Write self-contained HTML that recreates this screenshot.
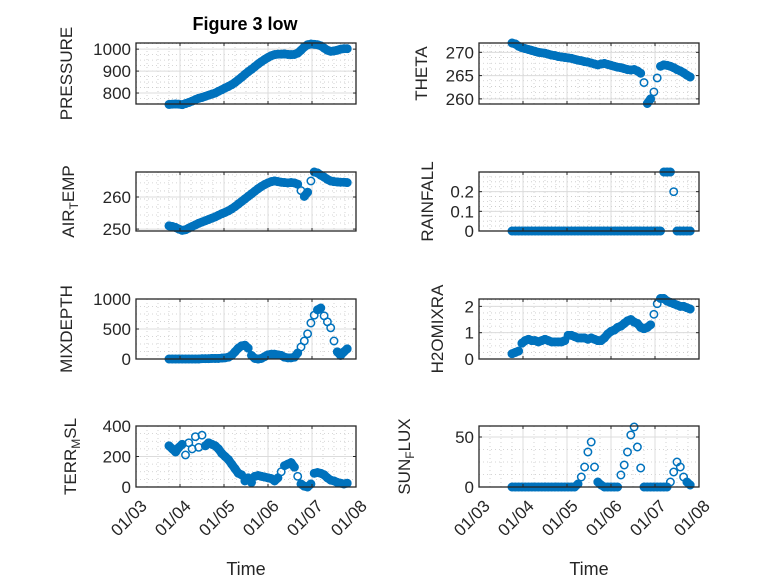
<!DOCTYPE html>
<html><head><meta charset="utf-8"><style>
body{margin:0;background:#fff;}
svg{display:block;font-family:"Liberation Sans",sans-serif;}
</style></head><body>
<svg id="fig" width="778" height="583" viewBox="0 0 778 583" xmlns="http://www.w3.org/2000/svg">
<rect width="778" height="583" fill="#fff"/>
<text x="245" y="30" text-anchor="middle" font-size="18" font-weight="bold" fill="#000">Figure 3 low</text>
</svg>
<script>
const months = ["01/03","01/04","01/05","01/06","01/07","01/08"];
const times = [0.75,0.825,0.9,0.975,1.05,1.125,1.2,1.275,1.35,1.425,1.5,1.575,1.65,1.725,1.8,1.875,1.95,2.025,2.1,2.175,2.25,2.325,2.4,2.475,2.55,2.625,2.7,2.775,2.85,2.925,3.0,3.075,3.15,3.225,3.3,3.375,3.45,3.525,3.6,3.675,3.75,3.825,3.9,3.975,4.05,4.125,4.2,4.275,4.35,4.425,4.5,4.575,4.65,4.725,4.8];
const pressure = [748,749,750,749,747,752,757,763,770,776,780,785,790,795,800,808,815,823,830,838,848,860,872,885,897,908,920,932,943,953,962,970,975,977,977,978,976,975,976,982,995,1010,1020,1023,1022,1020,1015,1005,995,990,992,995,1000,1002,1002];
const theta = [272,271.8,271.3,271,270.8,270.6,270.4,270.2,270,269.9,269.8,269.6,269.4,269.3,269.1,269,268.9,268.8,268.7,268.5,268.3,268.2,268,267.9,267.7,267.5,267.3,267.5,267.6,267.4,267.2,267,266.8,266.7,266.5,266.3,266.2,266.3,266,265.5,263.5,259,260,261.5,264.5,267,267.3,267.2,267,266.7,266.3,266,265.6,265.1,264.7];
const airTemp = [251,250.8,250.5,250,249.6,249.8,250.3,250.8,251.3,251.8,252.2,252.6,253,253.4,253.8,254.3,254.8,255.2,255.7,256.3,257,257.8,258.6,259.4,260.2,261,261.8,262.6,263.3,263.9,264.4,264.8,265,264.8,264.6,264.5,264.4,264.5,264.4,264,262,260.2,261.5,265,267.8,267.5,266.8,266.2,265.5,265,264.8,264.7,264.6,264.6,264.5];
const rainfall = [0,0,0,0,0,0,0,0,0,0,0,0,0,0,0,0,0,0,0,0,0,0,0,0,0,0,0,0,0,0,0,0,0,0,0,0,0,0,0,0,0,0,0,0,0,0,0.3,0.3,0.3,0.2,0,0,0,0,0];
const mixdepth = [0,0,0,0,0,0,0,0,0,0,5,5,5,10,10,10,15,20,30,60,120,180,220,230,180,60,10,0,10,40,70,80,80,70,60,30,20,20,30,100,200,300,420,600,730,820,850,720,620,520,300,120,60,120,170];
const h2o = [0.2,0.25,0.3,0.6,0.7,0.75,0.7,0.7,0.65,0.7,0.75,0.7,0.65,0.65,0.65,0.65,0.7,0.9,0.9,0.85,0.8,0.8,0.8,0.75,0.8,0.75,0.7,0.7,0.8,0.95,1.05,1.1,1.2,1.25,1.35,1.45,1.5,1.4,1.35,1.2,1.15,1.2,1.3,1.7,2.1,2.3,2.3,2.2,2.15,2.1,2.05,2.0,2.0,1.95,1.9];
const terrMsl = [270,250,230,260,280,210,290,250,330,260,340,270,290,280,270,250,220,200,180,150,120,90,80,40,60,30,70,75,70,65,60,55,40,60,100,140,150,160,130,70,20,5,0,20,90,95,90,80,60,45,40,30,25,20,25];
const sunFlux = [0,0,0,0,0,0,0,0,0,0,0,0,0,0,0,0,0,0,0,0,3,10,20,35,45,20,5,2,0,0,0,0,0,12,22,35,52,60,40,19,0,0,0,0,0,0,0,0,5,15,25,20,10,5,2];

const NS="http://www.w3.org/2000/svg";
const svg=document.getElementById('fig');
function mk(tag,attrs,parent){const e=document.createElementNS(NS,tag);for(const k in attrs)e.setAttribute(k,attrs[k]);(parent||svg).appendChild(e);return e;}

function panel(o){
  const g=mk('g',{});
  
  
  const x0=o.x,x1=o.x+220,y0=o.y,y1=o.y+o.h;
  const sx=t=>x0+(x1-x0)*t/5;
  const sy=v=>y1-(y1-y0)*(v-o.min)/(o.max-o.min);
  for(let t=0;t<=5;t+=0.25){if(Math.abs(t-Math.round(t))<1e-6)continue;
    mk('line',{x1:sx(t),x2:sx(t),y1:y0,y2:y1,stroke:'#c8c8c8','stroke-width':0.8,'stroke-dasharray':'1,3'},g);}
  for(let v=o.min;v<=o.max;v+=o.minor){
    mk('line',{x1:x0,x2:x1,y1:sy(v),y2:sy(v),stroke:'#c8c8c8','stroke-width':0.8,'stroke-dasharray':'1,3'},g);}
  for(let t=1;t<5;t++) mk('line',{x1:sx(t),x2:sx(t),y1:y0,y2:y1,stroke:'#dcdcdc','stroke-width':1},g);
  o.ticks.forEach(v=>mk('line',{x1:x0,x2:x1,y1:sy(v),y2:sy(v),stroke:'#dcdcdc','stroke-width':1},g));
  const ser=mk('g',{},g);
  
  
  // dense band between close neighbouring points (emulates overlapping markers)
  for(let i=1;i<o.vals.length;i++){
    const ax=sx(times[i-1]),ay=sy(o.vals[i-1]),bx=sx(times[i]),by=sy(o.vals[i]);
    if(Math.abs(by-ay)<5){
      mk('line',{x1:ax,y1:ay,x2:bx,y2:by,stroke:'#0072BD','stroke-width':8.6,'stroke-linecap':'round'},ser);
    }
  }
  o.vals.forEach((v,i)=>{
    const c=mk('circle',{cx:sx(times[i]),cy:sy(v),r:3.7,fill:'none',stroke:'#0072BD','stroke-width':1.5},ser);
    
    
  });
  mk('rect',{x:x0,y:y0,width:x1-x0,height:y1-y0,fill:'none',stroke:'#262626','stroke-width':1.3},g);
  for(let t=0;t<=5;t++){mk('line',{x1:sx(t),x2:sx(t),y1:y1,y2:y1-3,stroke:'#262626'},g);mk('line',{x1:sx(t),x2:sx(t),y1:y0,y2:y0+3,stroke:'#262626'},g);}
  o.ticks.forEach((v,i)=>{
    mk('line',{x1:x0,x2:x0+3,y1:sy(v),y2:sy(v),stroke:'#262626'},g);
    mk('line',{x1:x1,x2:x1-3,y1:sy(v),y2:sy(v),stroke:'#262626'},g);
    const tl=mk('text',{x:x0-5,y:sy(v)+6,'text-anchor':'end','font-size':17,fill:'#262626'},g);
    tl.textContent=o.tickLabels[i];
    
    
  });
  const yl=mk('text',{transform:`translate(${o.lx},${(y0+y1)/2}) rotate(-90)`,'text-anchor':'middle','font-size':17,fill:'#262626'},g);
  
  
  o.label.forEach(p=>{const ts=mk('tspan',{},yl);ts.textContent=p[0];
    if(p[1]){ts.setAttribute('baseline-shift','-35%');ts.setAttribute('font-size','12');}});
  if(o.bottom){
    months.forEach((m,i)=>{
      const t=mk('text',{transform:`translate(${sx(i)+12},${y1+20}) rotate(-45)`,'text-anchor':'end','font-size':17,fill:'#262626'},g);
      t.textContent=m;
      
      
    });
    const xt=mk('text',{x:(x0+x1)/2,y:575,'text-anchor':'middle','font-size':18,fill:'#262626'},g);
    xt.textContent='Time';
    
    
  }
}
const L=136,R=479;
panel({name:'pressure',x:L,y:43,h:61,min:750,max:1028,minor:25,ticks:[800,900,1000],tickLabels:['800','900','1000'],vals:pressure,label:[['PRESSURE']],lx:72});
panel({name:'theta',x:R,y:43,h:61,min:258.9,max:272,minor:1.25,ticks:[260,265,270],tickLabels:['260','265','270'],vals:theta,label:[['THETA']],lx:427});
panel({name:'air-temp',x:L,y:172,h:59,min:249.4,max:267.8,minor:2.5,ticks:[250,260],tickLabels:['250','260'],vals:airTemp,label:[['AIR'],['T',1],['EMP']],lx:74});
panel({name:'rainfall',x:R,y:172,h:59,min:0,max:0.3,minor:0.025,ticks:[0,0.1,0.2],tickLabels:['0','0.1','0.2'],vals:rainfall,label:[['RAINFALL']],lx:433});
panel({name:'mixdepth',x:L,y:299,h:60,min:0,max:1000,minor:125,ticks:[0,500,1000],tickLabels:['0','500','1000'],vals:mixdepth,label:[['MIXDEPTH']],lx:72});
panel({name:'h2omixra',x:R,y:299,h:60,min:0,max:2.28,minor:0.25,ticks:[0,1,2],tickLabels:['0','1','2'],vals:h2o,label:[['H2OMIXRA']],lx:443});
panel({name:'terr-msl',x:L,y:426,h:61,min:0,max:400,minor:50,ticks:[0,200,400],tickLabels:['0','200','400'],vals:terrMsl,label:[['TERR'],['M',1],['SL']],lx:76,bottom:true});
panel({name:'sun-flux',x:R,y:426,h:61,min:0,max:61,minor:12.5,ticks:[0,50],tickLabels:['0','50'],vals:sunFlux,label:[['SUN'],['F',1],['LUX']],lx:410,bottom:true});
</script>
</body></html>
